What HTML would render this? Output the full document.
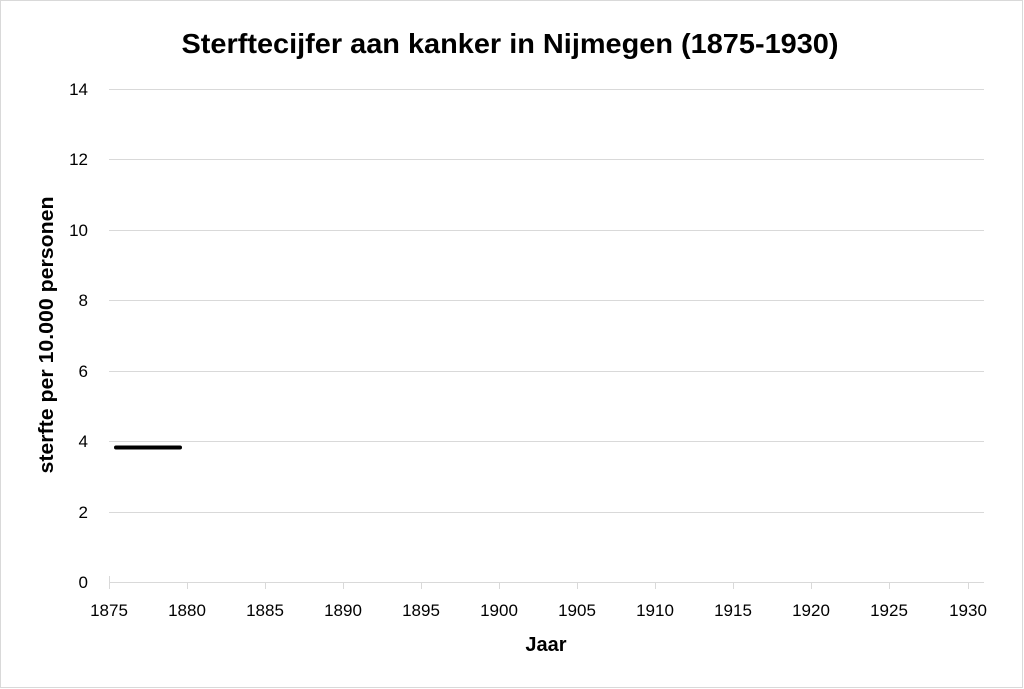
<!DOCTYPE html>
<html><head><meta charset="utf-8"><style>
html,body{margin:0;padding:0;background:#fff;}
svg{display:block;}
text{font-family:"Liberation Sans",sans-serif;}
</style></head><body>
<svg width="1024" height="689" viewBox="0 0 1024 689" xmlns="http://www.w3.org/2000/svg">
<rect x="0.5" y="0.5" width="1022" height="687" fill="#fff" stroke="#d9d9d9" stroke-width="1"/>
<text x="510" y="53" text-anchor="middle" font-size="28" font-weight="bold" fill="#000" textLength="657" lengthAdjust="spacingAndGlyphs">Sterftecijfer aan kanker in Nijmegen (1875-1930)</text>
<g stroke="#d9d9d9" stroke-width="1">
<line x1="109" y1="89.5" x2="984" y2="89.5"/>
<line x1="109" y1="159.5" x2="984" y2="159.5"/>
<line x1="109" y1="230.5" x2="984" y2="230.5"/>
<line x1="109" y1="300.5" x2="984" y2="300.5"/>
<line x1="109" y1="371.5" x2="984" y2="371.5"/>
<line x1="109" y1="441.5" x2="984" y2="441.5"/>
<line x1="109" y1="512.5" x2="984" y2="512.5"/>
<line x1="109" y1="582.5" x2="984" y2="582.5"/>
<line x1="109.5" y1="576" x2="109.5" y2="589"/>
<line x1="187.5" y1="582" x2="187.5" y2="589"/>
<line x1="265.5" y1="582" x2="265.5" y2="589"/>
<line x1="343.5" y1="582" x2="343.5" y2="589"/>
<line x1="421.5" y1="582" x2="421.5" y2="589"/>
<line x1="499.5" y1="582" x2="499.5" y2="589"/>
<line x1="577.5" y1="582" x2="577.5" y2="589"/>
<line x1="655.5" y1="582" x2="655.5" y2="589"/>
<line x1="733.5" y1="582" x2="733.5" y2="589"/>
<line x1="811.5" y1="582" x2="811.5" y2="589"/>
<line x1="889.5" y1="582" x2="889.5" y2="589"/>
<line x1="968.5" y1="582" x2="968.5" y2="589"/>
</g>
<g font-size="17" fill="#000" text-anchor="end">
<text x="88" y="95">14</text>
<text x="88" y="165">12</text>
<text x="88" y="236">10</text>
<text x="88" y="306">8</text>
<text x="88" y="377">6</text>
<text x="88" y="447">4</text>
<text x="88" y="518">2</text>
<text x="88" y="588">0</text>
</g>
<g font-size="17" fill="#000" text-anchor="middle">
<text x="109" y="616">1875</text>
<text x="187" y="616">1880</text>
<text x="265" y="616">1885</text>
<text x="343" y="616">1890</text>
<text x="421" y="616">1895</text>
<text x="499" y="616">1900</text>
<text x="577" y="616">1905</text>
<text x="655" y="616">1910</text>
<text x="733" y="616">1915</text>
<text x="811" y="616">1920</text>
<text x="889" y="616">1925</text>
<text x="968" y="616">1930</text>
</g>
<text x="546" y="651" text-anchor="middle" font-size="20" font-weight="bold" fill="#000">Jaar</text>
<text transform="translate(53,335) rotate(-90)" text-anchor="middle" font-size="20" font-weight="bold" fill="#000" textLength="277" lengthAdjust="spacingAndGlyphs">sterfte per 10.000 personen</text>
<line x1="116" y1="447.5" x2="180" y2="447.5" stroke="#000" stroke-width="4" stroke-linecap="round"/>
</svg>
</body></html>
